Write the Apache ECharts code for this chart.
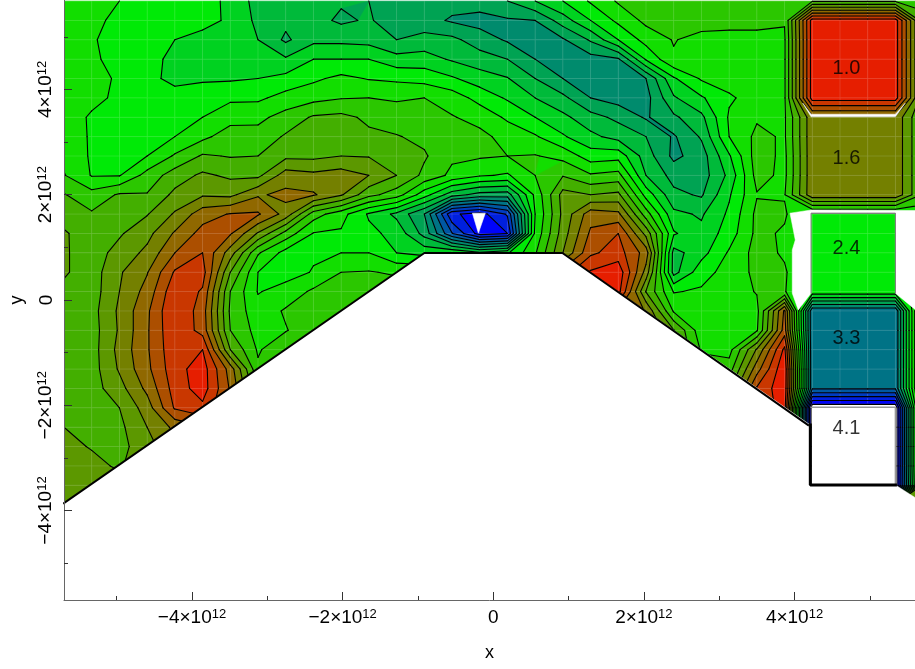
<!DOCTYPE html>
<html><head><meta charset="utf-8">
<style>html,body{margin:0;padding:0;background:#fff}#c{width:915px;height:669px}</style>
<script src="https://cdn.jsdelivr.net/npm/echarts@6/dist/echarts.min.js"></script>
</head><body><div id="c"></div>
<script>
const UNIT = 1e12;
const xTicks = [-4, -2, 0, 2, 4];
const yTicks = [-4, -2, 0, 2, 4];
const xMinorTicks = [-5, -3, -1, 1, 3, 5];
const yMinorTicks = [-5, -3, -1, 1, 3, 5];
const contourLevels = [1.0,1.16,1.32,1.48,1.64,1.8,1.96,2.12,2.28,2.44,2.6,2.76,2.92,3.08,3.24,3.4,3.56,3.72,3.88,4.04];
const colorValues = [1.08,1.68,2.48,3.38,3.98,4.1];
const colorRGB = [[230,30,0],[122,122,0],[0,240,0],[0,106,144],[0,0,255],[255,255,255]];
const gridX0 = -5.70, gridDX = 0.368, gridY0 = 5.68, gridDY = 0.368;

const z00=[2.38,2.41,2.44,2.47,2.50,2.53,2.64,2.82,2.86,2.88,2.90,2.92,3.00,3.02,3.02,3.00,2.92,2.76,2.60,2.42,2.26,2.20,2.18,2.18,2.18,2.18,2.16,2.14,2.14,2.14,2.14,2.14];
const z01=[2.36,2.42,2.46,2.50,2.52,2.56,2.62,2.80,2.88,2.86,2.95,2.90,3.02,3.02,3.10,3.14,3.10,3.08,2.84,2.60,2.40,2.24,2.20,2.20,2.20,2.20,2.27,1.08,1.08,1.08,1.08,2.10];
const z02=[2.36,2.43,2.48,2.53,2.60,2.64,2.68,2.76,2.95,2.80,2.80,2.82,2.92,2.86,2.88,3.00,3.10,3.16,3.10,2.90,2.60,2.38,2.27,2.34,2.36,2.36,2.30,1.08,1.08,1.08,1.08,2.10];
const z03=[2.36,2.42,2.48,2.56,2.63,2.66,2.70,2.73,2.74,2.60,2.60,2.60,2.70,2.69,2.78,2.85,2.92,3.08,3.18,3.14,3.10,2.58,2.30,2.36,2.38,2.38,2.30,1.08,1.08,1.08,1.08,2.10];
const z04=[2.36,2.39,2.46,2.56,2.64,2.62,2.62,2.60,2.55,2.47,2.40,2.45,2.47,2.50,2.58,2.68,2.75,2.92,3.08,3.18,3.20,3.08,2.62,2.42,2.38,2.38,2.30,1.08,1.08,1.08,1.08,2.10];
const z05=[2.36,2.40,2.47,2.55,2.54,2.52,2.47,2.47,2.38,2.33,2.29,2.28,2.30,2.28,2.35,2.50,2.62,2.76,2.88,3.08,3.15,3.14,2.78,2.62,2.46,2.38,2.30,1.08,1.08,1.08,1.08,2.10];
const z06=[2.36,2.46,2.49,2.52,2.48,2.44,2.34,2.32,2.22,2.10,2.08,2.15,2.20,2.22,2.27,2.33,2.47,2.60,2.72,2.86,2.96,3.10,2.95,2.80,2.42,2.30,2.30,1.68,1.68,1.68,1.68,2.15];
const z07=[2.34,2.46,2.50,2.50,2.44,2.32,2.20,2.22,2.10,2.04,2.03,2.09,2.11,2.16,2.20,2.24,2.33,2.42,2.58,2.72,2.82,2.92,3.10,2.90,2.44,2.24,2.30,1.68,1.68,1.68,1.68,2.15];
const z08=[2.32,2.46,2.50,2.44,2.26,2.10,2.13,2.12,2.00,2.00,1.96,1.97,2.03,2.10,2.25,2.26,2.28,2.27,2.33,2.52,2.50,2.84,3.12,3.00,2.62,2.20,2.32,1.68,1.68,1.68,1.68,2.15];
const z09=[2.27,2.45,2.45,2.22,2.04,1.93,1.99,2.00,1.72,1.76,1.72,1.80,1.96,2.16,2.32,2.42,2.46,2.28,2.13,2.26,2.22,2.76,2.98,3.00,2.72,2.22,2.32,1.68,1.68,1.68,1.68,2.15];
const z10=[2.11,2.22,2.10,2.11,1.92,1.82,1.84,1.66,1.60,1.62,1.78,2.07,2.20,2.53,2.85,2.98,3.00,2.40,1.90,1.96,1.92,2.50,2.88,2.94,2.62,2.29,2.29,1.68,1.68,1.68,1.68,2.15];
const z11=[2.03,2.10,2.06,1.97,1.78,1.55,1.47,1.46,1.70,2.20,2.38,2.62,2.80,3.08,3.85,3.95,3.70,2.44,1.92,1.55,1.60,2.20,2.72,2.78,2.57,2.24,2.26,2.48,2.48,2.48,2.48,2.40];
const z12=[1.94,2.05,1.98,1.85,1.62,1.42,1.46,1.82,2.18,2.45,2.46,2.56,2.65,2.98,3.55,3.95,3.88,2.40,1.88,1.45,1.32,1.85,2.58,2.72,2.52,2.24,2.30,2.48,2.48,2.48,2.48,2.40];
const z13=[1.94,2.04,1.90,1.76,1.48,1.32,1.72,2.26,2.50,2.46,2.44,2.44,2.60,2.65,2.60,2.72,2.62,2.30,1.80,1.35,1.25,1.55,2.82,2.66,2.42,2.22,2.30,2.48,2.48,2.48,2.48,2.40];
const z14=[1.94,2.04,1.82,1.65,1.30,1.25,1.96,2.44,2.50,2.43,2.28,2.27,2.30,2.30,2.20,2.20,2.20,2.20,1.40,1.14,1.05,1.70,2.82,2.50,2.38,2.24,2.26,2.48,2.48,2.48,2.48,2.40];
const z15=[2.00,2.04,1.80,1.58,1.20,1.34,2.12,2.45,2.38,2.25,2.20,2.20,2.20,2.20,2.20,2.20,2.20,2.20,1.40,1.10,1.10,1.97,2.45,2.42,2.36,2.27,2.27,2.48,2.48,2.48,2.48,2.40];
const z16=[2.02,2.02,1.77,1.51,1.16,1.40,2.15,2.38,2.26,2.20,2.18,2.20,2.20,2.20,2.20,2.20,2.20,2.20,2.20,2.00,1.50,1.65,2.30,2.36,2.35,2.33,1.45,3.38,3.38,3.38,3.38,1.80];
const z17=[2.03,2.03,1.78,1.50,1.18,1.38,2.12,2.34,2.29,2.18,2.10,2.10,2.10,2.10,2.10,2.10,2.10,2.10,2.10,2.00,1.60,1.60,1.95,2.38,2.38,2.30,1.40,3.38,3.38,3.38,3.38,1.80];
const z18=[2.03,2.03,1.75,1.50,1.20,1.16,1.96,2.30,2.15,2.15,2.10,2.10,2.10,2.10,2.10,2.10,2.10,2.10,2.10,2.00,1.80,1.80,1.90,2.30,2.34,1.78,1.12,3.38,3.38,3.38,3.38,1.80];
const z19=[2.03,2.03,1.78,1.52,1.22,1.08,1.55,2.25,2.10,2.10,2.10,2.10,2.10,2.10,2.10,2.10,2.10,2.10,2.10,2.00,2.00,2.00,2.00,2.20,2.20,1.55,1.02,3.38,3.38,3.38,3.38,1.80];
const z20=[2.03,2.03,1.86,1.60,1.25,1.08,1.50,2.10,2.10,2.10,2.10,2.10,2.10,2.10,2.10,2.10,2.10,2.10,2.10,2.00,2.00,2.00,2.00,2.00,2.00,1.30,1.04,3.38,3.38,3.38,3.38,1.80];
const z21=[2.00,2.00,1.96,1.72,1.30,1.20,1.50,2.00,2.00,2.00,2.00,2.00,2.00,2.00,2.00,2.00,2.00,2.00,2.00,2.00,2.00,2.00,2.00,2.00,2.00,1.30,1.08,4.18,4.18,4.18,4.18,1.80];
const z22=[1.96,1.98,2.00,1.80,1.60,1.50,1.50,2.00,2.00,2.00,2.00,2.00,2.00,2.00,2.00,2.00,2.00,2.00,2.00,2.00,2.00,2.00,2.00,2.00,2.00,1.30,1.10,4.18,4.18,4.18,4.18,1.80];
const z23=[1.92,1.97,2.02,1.85,1.70,1.60,1.60,2.00,2.00,2.00,2.00,2.00,2.00,2.00,2.00,2.00,2.00,2.00,2.00,2.00,2.00,2.00,2.00,2.00,2.00,1.30,1.20,4.18,4.18,4.18,4.18,1.80];
const z24=[1.88,1.92,1.98,1.85,1.80,1.80,1.80,2.00,2.00,2.00,2.00,2.00,2.00,2.00,2.00,2.00,2.00,2.00,2.00,2.00,2.00,2.00,2.00,2.00,2.00,1.30,1.20,4.18,4.18,4.18,4.18,1.80];
const z25=[1.84,1.88,1.90,1.85,1.80,1.80,1.80,2.00,2.00,2.00,2.00,2.00,2.00,2.00,2.00,2.00,2.00,2.00,2.00,2.00,2.00,2.00,2.00,2.00,2.00,1.30,1.20,4.18,4.18,4.18,4.18,1.85];
const z26=[1.80,1.85,1.85,1.85,1.80,1.80,1.80,2.00,2.00,2.00,2.00,2.00,2.00,2.00,2.00,2.00,2.00,2.00,2.00,2.00,2.00,2.00,2.00,2.00,2.00,1.30,1.20,1.85,1.85,1.85,1.85,1.85];
const zGrid=[z00,z01,z02,z03,z04,z05,z06,z07,z08,z09,z10,z11,z12,z13,z14,z15,z16,z17,z18,z19,z20,z21,z22,z23,z24,z25,z26];

// blank regions, in axis units of 1e12
const maskMainX=[-5.70,-0.915,0.918,4.21,4.21,5.34,5.61,5.61,-5.70];
const maskMainY=[-3.86,0.893,0.893,-2.375,-3.515,-3.515,-3.762,-5.70,-5.70];
const holeBoxX=[3.94,4.22,5.61,5.61,5.34,5.34,4.22,4.22,4.05,3.97,3.97,4.01];
const holeBoxY=[1.65,1.71,1.70,-0.19,0.13,1.65,1.65,0.13,-0.19,0.13,0.95,1.14];
const stripX=[4.11,4.22,5.34,5.47,5.34,4.22];
const stripY=[3.74,3.53,3.53,3.74,3.48,3.48];
const peakX=[-0.277,-0.105,-0.198];
const peakY=[1.65,1.65,1.27];
// edge lines
const edgeX=[-5.70,-0.915,0.918,4.18];
const edgeY=[-3.86,0.893,0.893,-2.375];
const box41X=[4.21,4.21,5.34];
const box41Y=[-2.375,-3.515,-3.515];
const outline24X=[4.22,4.22,5.34,5.34];
const outline24Y=[0.13,1.65,1.65,0.13];
const outline41X=[4.22,5.34,5.34];
const outline41Y=[-2.04,-2.04,-3.5];
const legendText=['1.0','1.6','2.4','3.3','4.1'];
const legendTextX=[4.69,4.69,4.69,4.69,4.69];
const legendTextY=[4.39,2.68,0.97,-0.74,-2.45];

const NCOLS=zGrid[0].length, NROWS=zGrid.length;
function colorAt(v){
  if(v<=colorValues[0]){const c=colorRGB[0];return `rgb(${c})`;}
  for(let i=1;i<colorValues.length;i++){
    if(v<=colorValues[i]){
      const t=(v-colorValues[i-1])/(colorValues[i]-colorValues[i-1]);
      const a=colorRGB[i-1],b=colorRGB[i];
      return `rgb(${a.map((q,n)=>Math.round(q+(b[n]-q)*t))})`;
    }
  }
  return 'rgb(255,255,255)';
}
const bands=[];
{
  const L=contourLevels;
  bands.push({lo:-Infinity,hi:L[0],color:colorAt(L[0]-0.08)});
  for(let i=0;i<L.length-1;i++) bands.push({lo:L[i],hi:L[i+1],color:colorAt((L[i]+L[i+1])/2)});
  bands.push({lo:L[L.length-1],hi:Infinity,color:'rgb(255,255,255)'});
}
function clip(poly,level,keepAbove){
  const out=[];
  const inside=p=>keepAbove?p[2]>=level:p[2]<=level;
  for(let i=0;i<poly.length;i++){
    const a=poly[i],b=poly[(i+1)%poly.length];
    const ia=inside(a),ib=inside(b);
    if(ia) out.push(a);
    if(ia!==ib){
      const t=(level-a[2])/(b[2]-a[2]);
      out.push([a[0]+(b[0]-a[0])*t,a[1]+(b[1]-a[1])*t,level]);
    }
  }
  return out;
}
function cellCorners(k,j){
  const xs=gridX0+gridDX*k,ys=gridY0-gridDY*j;
  return [
    [xs,ys,zGrid[j][k]],
    [xs+gridDX,ys,zGrid[j][k+1]],
    [xs+gridDX,ys-gridDY,zGrid[j+1][k+1]],
    [xs,ys-gridDY,zGrid[j+1][k]]
  ];
}
const cells=[];
for(let j=0;j<NROWS-1;j++)for(let k=0;k<NCOLS-1;k++){
  cells.push([(gridX0+gridDX*(k+.5))*UNIT,(gridY0-gridDY*(j+.5))*UNIT,k,j]);
}
const toPx=(api,p)=>api.coord([p[0]*UNIT,p[1]*UNIT]);
function renderFill(params,api){
  const k=api.value(2),j=api.value(3);
  const q=cellCorners(k,j);
  const children=[];
  for(const b of bands){
    let poly=q;
    if(b.lo!==-Infinity) poly=clip(poly,b.lo,true);
    if(poly.length&&b.hi!==Infinity) poly=clip(poly,b.hi,false);
    if(poly.length>=3){
      children.push({type:'polygon',silent:true,shape:{points:poly.map(p=>toPx(api,p))},
        style:{fill:b.color,stroke:b.color,lineWidth:0.6}});
    }
  }
  return {type:'group',children};
}
function renderSeam(params,api){
  const k=api.value(2),j=api.value(3);
  const q=cellCorners(k,j).map(p=>toPx(api,p));
  return {type:'polyline',silent:true,shape:{points:[q[3],q[0],q[1]]},
    style:{fill:'none',stroke:'rgba(255,255,255,0.13)',lineWidth:1}};
}
function renderLines(params,api){
  const k=api.value(2),j=api.value(3);
  const q=cellCorners(k,j);
  const children=[];
  for(const L of contourLevels){
    const pts=[];
    for(let e=0;e<4;e++){
      const a=q[e],b=q[(e+1)%4];
      if((a[2]<L)!==(b[2]<L)){
        const t=(L-a[2])/(b[2]-a[2]);
        pts.push([a[0]+(b[0]-a[0])*t,a[1]+(b[1]-a[1])*t]);
      }
    }
    for(let i=0;i+1<pts.length;i+=2){
      children.push({type:'line',silent:true,
        shape:{x1:toPx(api,pts[i])[0],y1:toPx(api,pts[i])[1],x2:toPx(api,pts[i+1])[0],y2:toPx(api,pts[i+1])[1]},
        style:{stroke:'#000',lineWidth:1.1,lineCap:'round'}});
    }
  }
  return {type:'group',children};
}
const polygons=[[maskMainX,maskMainY],[holeBoxX,holeBoxY],[stripX,stripY],[peakX,peakY]];
function renderMask(params,api){
  const i=api.value(2);
  const [xs,ys]=polygons[i];
  return {type:'polygon',silent:true,shape:{points:xs.map((x,n)=>toPx(api,[x,ys[n]]))},
    style:{fill:'#fff',stroke:'#fff',lineWidth:0.5}};
}
const pairs=(xs,ys)=>xs.map((x,i)=>[x*UNIT,ys[i]*UNIT]);
const lineSeries=(xs,ys,color,width,z)=>({type:'line',data:pairs(xs,ys),showSymbol:false,silent:true,
  lineStyle:{color,width,cap:'square'},z,clip:true,animation:false});
const tickLabel=v=>{
  const n=Math.round(v/UNIT);
  if(n===0) return '{m|0}';
  return `{m|${n<0?'\u2212':''}${Math.abs(n)}\u00d710}{s|12}`;
};
const labelRich={m:{fontSize:19,fontFamily:'Liberation Sans',color:'#000'},
  s:{fontSize:13,fontFamily:'Liberation Sans',color:'#000',padding:[0,0,7,0]}};
const scaled=a=>a.map(v=>v*UNIT);
const axisCommon={type:'value',scale:true,splitLine:{show:false},z:20};
const chart=echarts.init(document.getElementById('c'),null,{renderer:'canvas'});
chart.setOption({
  animation:false,
  backgroundColor:'#fff',
  grid:{left:64,right:0,top:0,bottom:69,containLabel:false,outerBoundsMode:'none'},
  xAxis:[
    {...axisCommon,min:-5.70*UNIT,max:5.60*UNIT,position:'bottom',name:'x',nameLocation:'middle',nameGap:44,
     nameTextStyle:{fontSize:18,fontFamily:'Liberation Sans',color:'#000'},
     axisLine:{show:true,onZero:false,lineStyle:{color:'#666',width:1}},
     axisTick:{show:true,inside:true,length:8,lineStyle:{color:'#333',width:1},customValues:scaled(xTicks)},
     axisLabel:{show:true,margin:8,customValues:scaled(xTicks),formatter:tickLabel,rich:labelRich}},
    {...axisCommon,min:-5.70*UNIT,max:5.60*UNIT,position:'bottom',
     axisLine:{show:false,onZero:false},axisLabel:{show:false},
     axisTick:{show:true,inside:true,length:4,lineStyle:{color:'#333',width:1},customValues:scaled(xMinorTicks)}}
  ],
  yAxis:[
    {...axisCommon,min:-5.70*UNIT,max:5.70*UNIT,position:'left',name:'y',nameLocation:'middle',nameGap:38,
     nameTextStyle:{fontSize:18,fontFamily:'Liberation Sans',color:'#000'},
     axisLine:{show:true,onZero:false,lineStyle:{color:'#666',width:1}},
     axisTick:{show:true,inside:true,length:8,lineStyle:{color:'#333',width:1},customValues:scaled(yTicks)},
     axisLabel:{show:true,rotate:90,margin:8,customValues:scaled(yTicks),formatter:tickLabel,rich:labelRich}},
    {...axisCommon,min:-5.70*UNIT,max:5.70*UNIT,position:'left',
     axisLine:{show:false,onZero:false},axisLabel:{show:false},
     axisTick:{show:true,inside:true,length:4,lineStyle:{color:'#333',width:1},customValues:scaled(yMinorTicks)}}
  ],
  series:[
    {type:'custom',renderItem:renderFill,data:cells,encode:{x:0,y:1},clip:true,silent:true,z:2,progressive:0,animation:false},
    {type:'custom',renderItem:renderSeam,data:cells,encode:{x:0,y:1},clip:true,silent:true,z:3,progressive:0,animation:false},
    {type:'custom',renderItem:renderLines,data:cells,encode:{x:0,y:1},clip:true,silent:true,z:4,progressive:0,animation:false},
    {type:'custom',renderItem:renderMask,data:polygons.map((p,i)=>[p[0][0]*UNIT,p[1][0]*UNIT,i]),encode:{x:0,y:1},clip:true,silent:true,z:5,progressive:0,animation:false},
    lineSeries(edgeX,edgeY,'#000',2,6),
    lineSeries(outline24X,outline24Y,'#777',1,6),
    lineSeries(outline41X,outline41Y,'#999',1.5,6),
    lineSeries(box41X,box41Y,'#000',3,7),
    {type:'scatter',symbolSize:0,silent:true,z:8,animation:false,
     data:legendText.map((t,i)=>({value:[legendTextX[i]*UNIT,legendTextY[i]*UNIT],name:t})),
     label:{show:true,position:'inside',formatter:p=>p.name,fontSize:20,fontFamily:'Liberation Sans',color:'#000'}}
  ]
});
</script></body></html>
